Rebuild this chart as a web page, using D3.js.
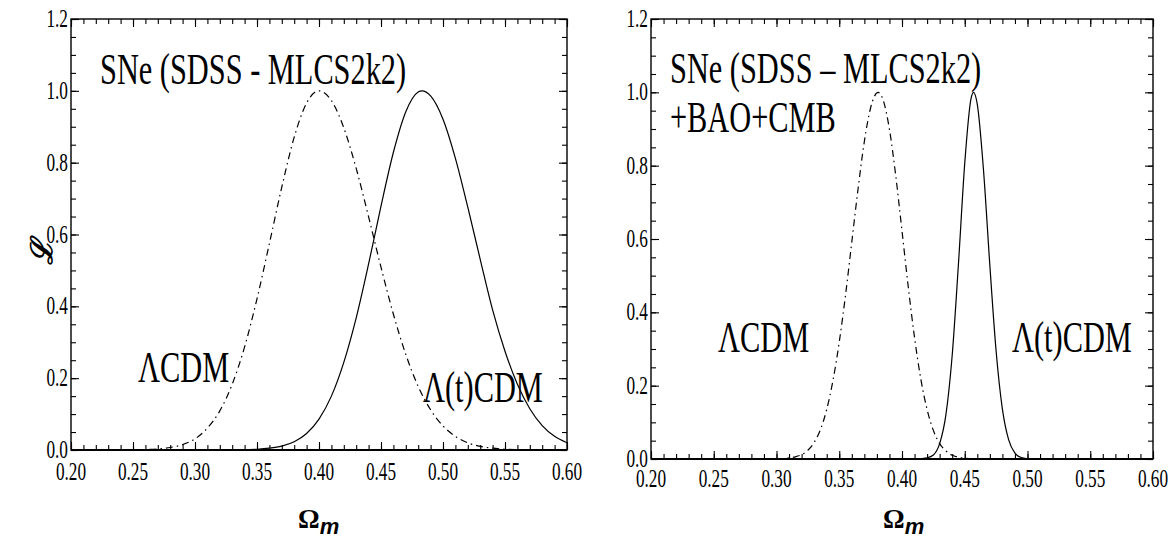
<!DOCTYPE html>
<html><head><meta charset="utf-8">
<script src="https://cdn.jsdelivr.net/npm/d3@7"></script>
<style>body{margin:0;background:#fff} svg{display:block}</style>
</head><body><svg id="c" width="1174" height="541"></svg>
<script>
// ---------- data ----------
const xTickValues = [0.20,0.25,0.30,0.35,0.40,0.45,0.50,0.55,0.60];
const xTickLabels = ["0.20","0.25","0.30","0.35","0.40","0.45","0.50","0.55","0.60"];
const yTickValues = [0.0,0.2,0.4,0.6,0.8,1.0,1.2];
const yTickLabels = ["0.0","0.2","0.4","0.6","0.8","1.0","1.2"];

// left panel : SNe (SDSS - MLCS2k2)
const leftLCDM_x = [0.25,0.26,0.27,0.28,0.29,0.30,0.31,0.32,0.33,0.34,0.35,0.36,0.37,0.38,0.39,0.40,0.41,0.42,0.43,0.44,0.45,0.46,0.47,0.48,0.49,0.50,0.51,0.52,0.53,0.54,0.55,0.56,0.57,0.58,0.59,0.60];
const leftLCDM_y = [0.000,0.001,0.003,0.007,0.015,0.031,0.061,0.109,0.183,0.287,0.421,0.575,0.732,0.871,0.966,1.000,0.973,0.897,0.784,0.649,0.509,0.378,0.266,0.177,0.112,0.067,0.038,0.020,0.010,0.005,0.002,0.001,0.000,0.000,0.000,0.000];
const leftLtCDM_x = [0.33,0.34,0.35,0.36,0.37,0.38,0.39,0.40,0.41,0.42,0.43,0.44,0.45,0.46,0.47,0.48,0.483,0.49,0.50,0.51,0.52,0.53,0.54,0.55,0.56,0.57,0.58,0.59,0.60];
const leftLtCDM_y = [0.000,0.001,0.002,0.005,0.011,0.023,0.046,0.086,0.150,0.244,0.368,0.518,0.679,0.829,0.942,0.997,1.000,0.986,0.921,0.812,0.676,0.531,0.390,0.275,0.183,0.115,0.068,0.038,0.020];

// right panel : SNe (SDSS - MLCS2k2) + BAO + CMB
const rightLCDM_x = [0.30,0.31,0.315,0.32,0.325,0.33,0.335,0.34,0.345,0.35,0.355,0.36,0.365,0.37,0.375,0.381,0.385,0.39,0.395,0.40,0.405,0.41,0.415,0.42,0.425,0.43,0.435,0.44,0.445,0.45,0.46];
const rightLCDM_y = [0.000,0.003,0.006,0.012,0.024,0.045,0.080,0.135,0.214,0.319,0.447,0.592,0.737,0.866,0.958,1.000,0.979,0.899,0.773,0.622,0.469,0.331,0.218,0.135,0.078,0.042,0.022,0.010,0.005,0.002,0.000];
const rightLtCDM_x = [0.41,0.415,0.42,0.425,0.43,0.435,0.44,0.445,0.45,0.455,0.457,0.46,0.465,0.47,0.475,0.48,0.485,0.49,0.495,0.50,0.505,0.51];
const rightLtCDM_y = [0.000,0.001,0.003,0.011,0.042,0.121,0.283,0.533,0.807,0.983,1.000,0.967,0.785,0.528,0.294,0.136,0.052,0.016,0.004,0.001,0.000,0.000];

// ---------- layout ----------
const SERIF = "Liberation Serif";
const SX = 0.69;
const svg = d3.select("#c");

const panels = [
  {id:"L", l:71, r:567, t:19, b:450, xLabDy:30,
   title:[["SNe (SDSS - MLCS2k2)",100,84]],
   notes:[["ΛCDM",138,382],["Λ(t)CDM",423,402]],
   omega:[298,528],
   series:[[leftLCDM_x,leftLCDM_y,true],[leftLtCDM_x,leftLtCDM_y,false]]},
  {id:"R", l:651, r:1153, t:19, b:459, xLabDy:28,
   title:[["SNe (SDSS \u2013 MLCS2k2)",670,83],["+BAO+CMB",670,132]],
   notes:[["ΛCDM",718,352],["Λ(t)CDM",1012,352]],
   omega:[883,528],
   series:[[rightLCDM_x,rightLCDM_y,true],[rightLtCDM_x,rightLtCDM_y,false]]}
];

function sText(g,x,y,str,size,anchor){
  return g.append("text")
    .attr("transform",`translate(${x},${y}) scale(${SX},1)`)
    .attr("text-anchor",anchor||"start")
    .attr("font-family",SERIF).attr("font-size",size).attr("fill","#000")
    .text(str);
}

const minorX = d3.range(20,61,1).map(v=>v/100);
const minorY = d3.range(0,25,1).map(v=>v*0.05);

panels.forEach(p=>{
  const x = d3.scaleLinear().domain([0.2,0.6]).range([p.l,p.r]);
  const y = d3.scaleLinear().domain([0,1.2]).range([p.b,p.t]);
  const g = svg.append("g");

  g.append("clipPath").attr("id","clip"+p.id).append("rect")
    .attr("x",p.l).attr("y",p.t-2).attr("width",p.r-p.l).attr("height",p.b-p.t+2);

  const line = d3.line().x(d=>x(d[0])).y(d=>y(d[1])).curve(d3.curveMonotoneX);
  p.series.forEach(([xs,ys,dashed])=>{
    g.append("path").datum(xs.map((v,i)=>[v,ys[i]]))
      .attr("clip-path",`url(#clip${p.id})`)
      .attr("d",line).attr("fill","none").attr("stroke","#000")
      .attr("stroke-width",1.2)
      .attr("stroke-dasharray",dashed?"7,4,1.5,4":null);
  });

  const addAxis = (axis, tx, ty)=>{
    const a = g.append("g").attr("transform",`translate(${tx},${ty})`).call(axis);
    a.select(".domain").remove();
    a.selectAll("line").attr("stroke","#000").attr("stroke-width",1.1);
  };
  addAxis(d3.axisBottom(x).tickValues(minorX).tickSize(-5).tickFormat(""),0,p.b);
  addAxis(d3.axisBottom(x).tickValues(xTickValues).tickSize(-8).tickFormat(""),0,p.b);
  addAxis(d3.axisTop(x).tickValues(minorX).tickSize(-5).tickFormat(""),0,p.t);
  addAxis(d3.axisTop(x).tickValues(xTickValues).tickSize(-8).tickFormat(""),0,p.t);
  addAxis(d3.axisLeft(y).tickValues(minorY).tickSize(-5).tickFormat(""),p.l,0);
  addAxis(d3.axisLeft(y).tickValues(yTickValues).tickSize(-8).tickFormat(""),p.l,0);
  addAxis(d3.axisRight(y).tickValues(minorY).tickSize(-5).tickFormat(""),p.r,0);
  addAxis(d3.axisRight(y).tickValues(yTickValues).tickSize(-8).tickFormat(""),p.r,0);

  g.append("rect").attr("x",p.l).attr("y",p.t).attr("width",p.r-p.l).attr("height",p.b-p.t)
    .attr("fill","none").attr("stroke","#000").attr("stroke-width",1.4);
  g.append("line").attr("x1",p.l).attr("x2",p.r).attr("y1",p.b).attr("y2",p.b)
    .attr("stroke","#000").attr("stroke-width",2.2);

  xTickValues.forEach((v,i)=>sText(g,x(v),p.b+p.xLabDy,xTickLabels[i],25,"middle"));
  yTickValues.forEach((v,i)=>sText(g,p.l-3,y(v)+8,yTickLabels[i],25,"end"));

  p.title.forEach(([s,tx,ty])=>sText(g,tx,ty,s,44,"start"));
  p.notes.forEach(([s,tx,ty])=>sText(g,tx,ty,s,44,"start"));

  const om = g.append("text").attr("x",p.omega[0]).attr("y",p.omega[1]).attr("fill","#000");
  om.append("tspan").text("Ω").attr("font-family",SERIF).attr("font-weight","bold").attr("font-size",27);
  om.append("tspan").text("m").attr("dy",6).attr("font-family","Liberation Sans")
    .attr("font-weight","bold").attr("font-style","italic").attr("font-size",22);
});

svg.append("text").attr("transform","translate(52,252) rotate(-90)")
  .attr("text-anchor","middle")
  .attr("font-family","DejaVu Serif").attr("font-weight","bold").attr("font-style","italic")
  .attr("font-size",30).text("ℒ");
</script></body></html>
